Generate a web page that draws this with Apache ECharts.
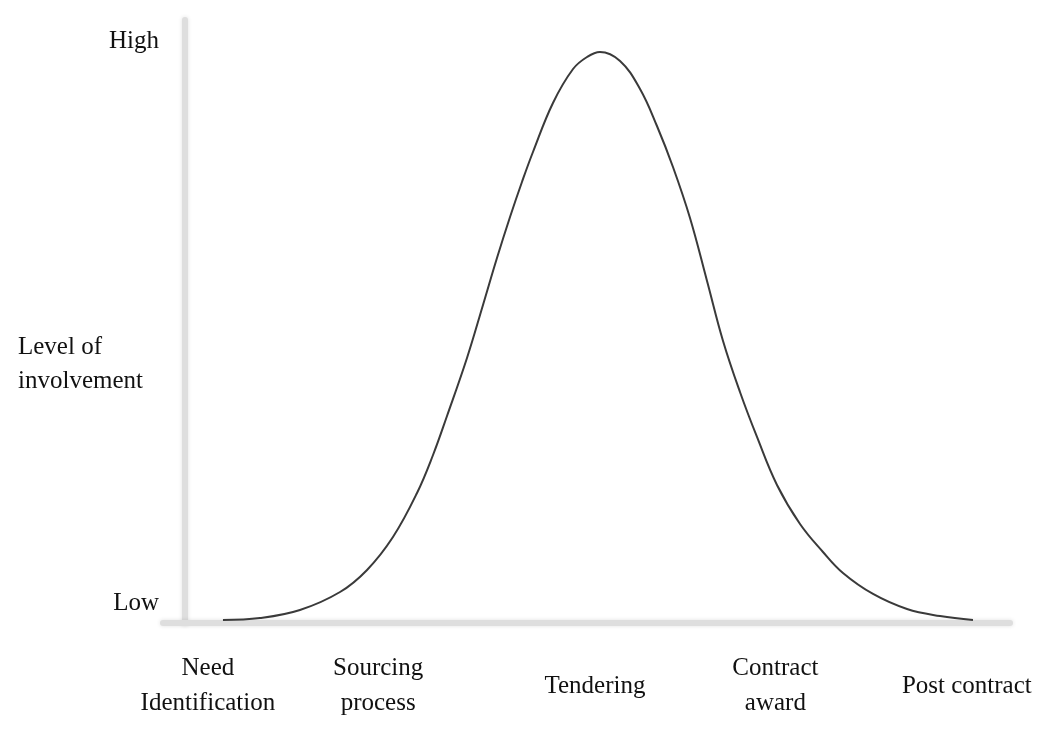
<!DOCTYPE html>
<html>
<head>
<meta charset="utf-8">
<script src="https://cdn.jsdelivr.net/npm/echarts@6/dist/echarts.min.js"></script>
<style>
  html, body { margin: 0; padding: 0; background: #ffffff; }
  #chart { width: 1038px; height: 729px; }
</style>
</head>
<body>
<div id="chart"></div>
<script>
// Stage positions along the process (0-100 scale) and their labels
const stageNames = ['Need\nIdentification', 'Sourcing\nprocess', 'Tendering', 'Contract\naward', 'Post contract'];
const stagePositions = [5.3, 25.4, 51.0, 72.3, 94.9];

// Level-of-involvement tick labels (0-100 scale)
const levelNames = ['Low', 'High'];
const levelPositions = [3.3, 96.4];

// Involvement curve: process position (0-100) and level (0-100)
const curveX = [7.08, 11.45, 16.17, 20.90, 24.09, 27.15, 29.99, 31.88, 33.53, 35.89, 37.78, 39.43, 40.97, 42.38, 43.68, 46.04, 48.41, 50.06, 51.59,
                53.96, 56.32, 58.32, 60.21, 62.22, 64.23, 66.12, 68.12, 70.13, 72.49, 75.21, 77.92, 80.28, 83.83, 87.84, 91.74, 95.63];
const curveY = [0.50, 0.83, 2.16, 5.14, 8.80, 14.26, 21.56, 27.86, 34.33, 43.95, 52.74, 60.53, 67.33, 73.13, 78.11, 86.24, 91.87, 93.86, 94.69,
                93.20, 88.56, 82.42, 75.62, 67.16, 56.72, 46.77, 38.31, 30.85, 22.89, 16.42, 11.78, 8.29, 4.81, 2.32, 1.16, 0.50];

const yTitle = 'Level of\ninvolvement';

const font = '"Liberation Serif", "Times New Roman", serif';
const axisLineStyle = { color: '#dedede', width: 6, shadowBlur: 4, shadowColor: 'rgba(0,0,0,0.12)' };

const chart = echarts.init(document.getElementById('chart'));
chart.setOption({
  animation: false,
  backgroundColor: '#ffffff',
  title: {
    text: yTitle,
    left: 13,
    top: 325,
    textStyle: { fontFamily: font, fontSize: 25, fontWeight: 'normal', color: '#111', lineHeight: 34 }
  },
  grid: { left: 163, right: 28, top: 20, bottom: 106 },
  xAxis: {
    type: 'value',
    min: 0,
    max: 100,
    splitLine: { show: false },
    axisTick: { show: false },
    axisLine: { show: true, onZero: false, lineStyle: axisLineStyle },
    axisLabel: {
      customValues: stagePositions,
      formatter: function (v) {
        const i = stagePositions.indexOf(v);
        return i >= 0 ? stageNames[i] : '';
      },
      margin: 63,
      verticalAlign: 'middle',
      fontFamily: font,
      fontSize: 25,
      color: '#111',
      lineHeight: 35
    }
  },
  yAxis: {
    type: 'value',
    min: 0,
    max: 100,
    offset: -22,
    splitLine: { show: false },
    axisTick: { show: false },
    axisLine: { show: true, lineStyle: axisLineStyle },
    axisLabel: {
      customValues: levelPositions,
      formatter: function (v) {
        const i = levelPositions.indexOf(v);
        return i >= 0 ? levelNames[i] : '';
      },
      margin: 26,
      fontFamily: font,
      fontSize: 25,
      color: '#111'
    }
  },
  series: [{
    type: 'line',
    data: curveX.map((x, i) => [x, curveY[i]]),
    smooth: 0.4,
    showSymbol: false,
    lineStyle: { color: '#3a3a3a', width: 2 }
  }]
});
</script>
</body>
</html>
